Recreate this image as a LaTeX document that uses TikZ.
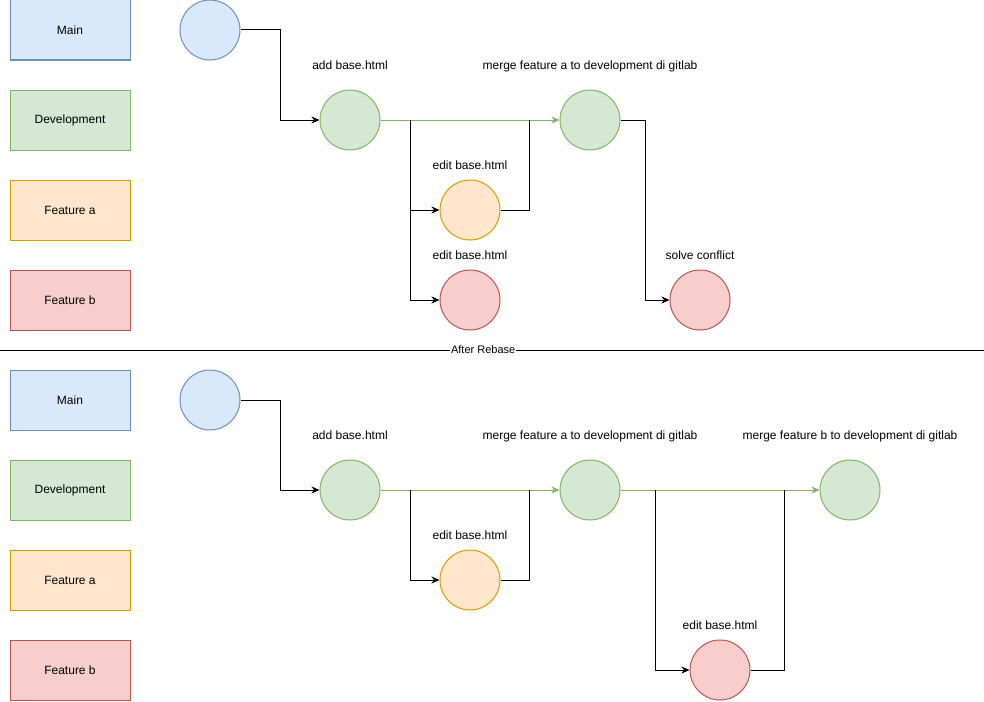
\documentclass[tikz,border=0pt]{standalone}
\usepackage{fontspec}
\setmainfont{Liberation Sans}
\usepackage{xcolor}
\usepackage{tikz}
\usetikzlibrary{
    positioning,
    calc,
    arrows.meta
}
\definecolor{mainfill}{HTML}{DAE8FC}
\definecolor{mainline}{HTML}{6C8EBF}
\definecolor{devfill}{HTML}{D5E8D4}
\definecolor{devline}{HTML}{82B366}
\definecolor{featafill}{HTML}{FFE6CC}
\definecolor{fealine}{HTML}{D79B00}
\definecolor{featbfill}{HTML}{F8CECC}
\definecolor{feblline}{HTML}{B85450}
\tikzset{
  basic/.style = {
      draw,
      line width=1pt,
      font=\fontsize{12}{14}\selectfont,
      align=center,
      inner sep=0pt
  },
  branch/.style = {
      basic,
      rectangle,
      minimum width=120pt,
      minimum height=60pt
  },
  commit/.style = {
      basic,
      circle,
      minimum size=60pt
  },
  mainc/.style = {
      fill=mainfill,
      draw=mainline
  },
  devc/.style = {
      fill=devfill,
      draw=devline
  },
  feata/.style = {
      fill=featafill,
      draw=fealine
  },
  featb/.style = {
      fill=featbfill,
      draw=feblline
  },
  msg/.style = {
      font=\fontsize{12}{14}\selectfont,
      inner sep=0pt,
      text height=9pt,
      text depth=0pt
  },
  devmsg/.style = {
      label={[msg, label distance=20pt]above:#1}
  },
  featmsg/.style = {
      label={[msg, label distance=10pt]above:#1}
  },
  edge/.style = {
      line width=1pt,
      -{Stealth[length=8pt,width=7pt,inset=2.5pt]}
  },
  devedge/.style = {
      edge,
      draw=devline
  },
  plainedge/.style = {
      line width=1pt
  }
}

\begin{document}
\begin{tikzpicture}[x=1pt, y=-1pt, node distance=90pt]
    \useasboundingbox (0,0) rectangle (984,701);
    % Legend (before)
    \node[branch, mainc] at (70,30) (lgMain) {Main};
    \node[branch, devc, below of=lgMain] (lgDev) {Development};
    \node[branch, feata, below of=lgDev] (lgFeatA) {Feature a};
    \node[branch, featb, below of=lgFeatA] (lgFeatB) {Feature b};
    % Commits (before)
    \node[commit, mainc] at (210,30) (cMain) {};
    \node[commit, devc, devmsg=add base.html] at (350,120) (cDev1) {};
    \node[commit, devc, devmsg=merge feature a to development di gitlab,
          right of=cDev1, node distance=240pt] (cDev2) {};
    \node[commit, feata, featmsg=edit base.html] at (470,210) (cFeatA) {};
    \node[commit, featb, featmsg=edit base.html, below of=cFeatA] (cFeatB) {};
    \node[commit, featb, featmsg=solve conflict,
          right of=cFeatB, node distance=230pt] (cFix) {};
    % Edges (before)
    \draw[edge] (cMain.east) -- ++(40,0) |- (cDev1.west);
    \draw[devedge] (cDev1) -- (cDev2);
    \draw[edge] ($(cDev1.east)+(30,0)$) |- (cFeatA.west);
    \draw[edge] ($(cDev1.east)+(30,0)$) |- (cFeatB.west);
    \draw[plainedge] (cFeatA.east) -| ($(cDev2.west)+(-30,0)$);
    \draw[edge] (cDev2.east) -- ++(25,0) |- (cFix.west);
    % Separator
    \coordinate (sepL) at (0,350);
    \coordinate (sepR) at (984,350);
    \draw[plainedge] (sepL) -- node[pos=0.491, fill=white, inner sep=1pt,
        font=\fontsize{11}{13}\selectfont] (sepTxt) {After Rebase} (sepR);
    % Legend (after)
    \node[branch, mainc] at (70,400) (rgMain) {Main};
    \node[branch, devc, below of=rgMain] (rgDev) {Development};
    \node[branch, feata, below of=rgDev] (rgFeatA) {Feature a};
    \node[branch, featb, below of=rgFeatA] (rgFeatB) {Feature b};
    % Commits (after)
    \node[commit, mainc] at (210,400) (rMain) {};
    \node[commit, devc, devmsg=add base.html] at (350,490) (rDev1) {};
    \node[commit, devc, devmsg=merge feature a to development di gitlab,
          right of=rDev1, node distance=240pt] (rDev2) {};
    \node[commit, devc, devmsg=merge feature b to development di gitlab,
          right of=rDev2, node distance=260pt] (rDev3) {};
    \node[commit, feata, featmsg=edit base.html] at (470,580) (rFeatA) {};
    \node[commit, featb, featmsg=edit base.html] at (720,670) (rFeatB) {};
    % Edges (after)
    \draw[edge] (rMain.east) -- ++(40,0) |- (rDev1.west);
    \draw[devedge] (rDev1) -- (rDev2);
    \draw[devedge] (rDev2) -- (rDev3);
    \draw[edge] ($(rDev1.east)+(30,0)$) |- (rFeatA.west);
    \draw[plainedge] (rFeatA.east) -| ($(rDev2.west)+(-30,0)$);
    \draw[edge] ($(rDev2.east)+(35,0)$) |- (rFeatB.west);
    \draw[plainedge] (rFeatB.east) -| ($(rDev3.west)+(-35,0)$);
\end{tikzpicture}
\end{document}
